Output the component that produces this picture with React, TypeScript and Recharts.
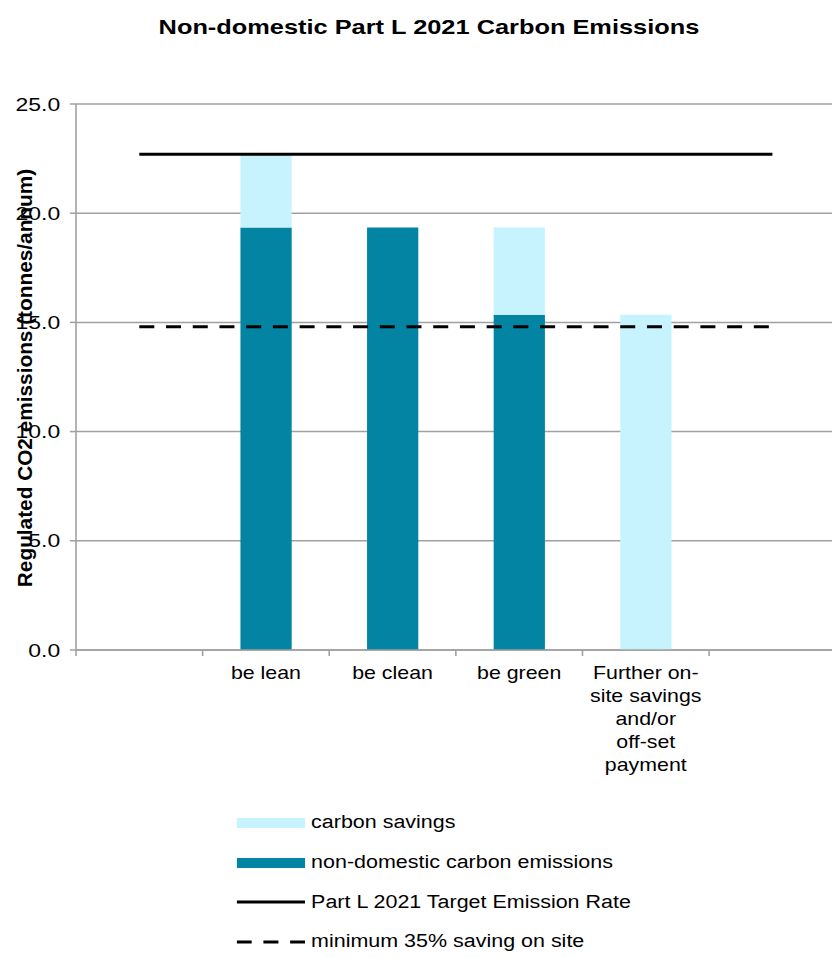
import { Bar, CartesianGrid, ComposedChart, Legend, Line, XAxis, YAxis } from 'recharts';

const categories = ['', 'be lean', 'be clean', 'be green', 'Further on-\nsite savings\nand/or\noff-set\npayment', ' '];
const nonDomesticEmissions = [0, 19.35, 19.35, 15.35, 0, 0];
const carbonSavings = [0, 3.35, 0, 4.0, 15.35, 0];
const targetEmissionRate = [22.7, 22.7, 22.7, 22.7, 22.7, 22.7];
const minimumSaving = [14.8, 14.8, 14.8, 14.8, 14.8, 14.8];
const yTicks = [0, 5, 10, 15, 20, 25];

const data = categories.map((name, i) => ({
  name,
  nonDomestic: nonDomesticEmissions[i],
  savings: carbonSavings[i],
  target: targetEmissionRate[i],
  minimum: minimumSaving[i],
}));

// the source picture is stretched sideways, so draw narrower and scale the whole box
const STRETCH = 1.22;
const DARK = '#0284a2';
const LIGHT = '#c6f3fd';
const GRID = '#a0a0a0';
const FONT = '"Liberation Sans", Arial, sans-serif';

function CategoryTick(props: any) {
  const { x, y, payload } = props;
  const half = payload.offset ?? 51.9;
  const lines = String(payload.value).split('\n');
  return (
    <g>
      <line x1={x - half} x2={x - half} y1={y} y2={y + 6} stroke={GRID} strokeWidth={1.3} />
      <text x={x} y={y + 29} textAnchor="middle" fontSize={17.5} fill="#000" fontFamily={FONT}>
        {lines.map((line, i) => (
          <tspan key={i} x={x} dy={i === 0 ? 0 : 23}>
            {line}
          </tspan>
        ))}
      </text>
    </g>
  );
}

const legendRows = [
  { label: 'carbon savings', kind: 'bar', color: LIGHT },
  { label: 'non-domestic carbon emissions', kind: 'bar', color: DARK },
  { label: 'Part L 2021 Target Emission Rate', kind: 'line', color: '#000' },
  { label: 'minimum 35% saving on site', kind: 'dash', color: '#000' },
];

function LegendBox() {
  return (
    <div style={{ fontFamily: FONT }}>
      {legendRows.map((row) => (
        <div key={row.label} style={{ display: 'flex', alignItems: 'center', height: 39.7 }}>
          <svg width={56} height={12} style={{ display: 'block' }}>
            {row.kind === 'bar' ? (
              <rect x={0} y={1} width={56} height={10} fill={row.color} />
            ) : (
              <line
                x1={0}
                x2={56}
                y1={6}
                y2={6}
                stroke={row.color}
                strokeWidth={3}
                strokeDasharray={row.kind === 'dash' ? '12.3 9.6' : undefined}
              />
            )}
          </svg>
          <span style={{ marginLeft: 5, fontSize: 17.6, color: '#000', whiteSpace: 'nowrap' }}>{row.label}</span>
        </div>
      ))}
    </div>
  );
}

export default function App() {
  return (
    <div
      style={{
        position: 'absolute',
        left: 0,
        top: 0,
        width: 832,
        height: 958,
        overflow: 'hidden',
        background: '#fff',
        fontFamily: FONT,
      }}
    >
      <div style={{ position: 'relative', width: 690, height: 958, transform: `scaleX(${STRETCH})`, transformOrigin: '0 0' }}>
        <ComposedChart
          width={690}
          height={958}
          data={data}
          margin={{ top: 104, right: 5, bottom: 188, left: 12.3 }}
          barSize={42}
        >
          <CartesianGrid vertical={false} stroke={GRID} strokeWidth={1.5} />
          <XAxis
            dataKey="name"
            height={120}
            axisLine={{ stroke: GRID, strokeWidth: 1.5 }}
            tickLine={false}
            tickSize={0}
            tickMargin={0}
            interval={0}
            tick={<CategoryTick />}
          />
          <YAxis
            width={50}
            domain={[0, 25]}
            ticks={yTicks}
            allowDataOverflow
            axisLine={{ stroke: GRID, strokeWidth: 1.3 }}
            tickLine={{ stroke: GRID, strokeWidth: 1.5 }}
            tickSize={5}
            tickMargin={8}
            tickFormatter={(v) => Number(v).toFixed(1)}
            tick={{ fontSize: 18.8, fill: '#000', fontFamily: FONT }}
          />
          <Bar dataKey="nonDomestic" stackId="a" fill={DARK} isAnimationActive={false} />
          <Bar dataKey="savings" stackId="a" fill={LIGHT} isAnimationActive={false} />
          <Line dataKey="target" stroke="#000" strokeWidth={3} dot={false} activeDot={false} isAnimationActive={false} />
          <Line
            dataKey="minimum"
            stroke="#000"
            strokeWidth={3}
            strokeDasharray="12.3 9.6"
            dot={false}
            activeDot={false}
            isAnimationActive={false}
          />
          <Legend
            layout="horizontal"
            verticalAlign="middle"
            align="center"
            content={() => <LegendBox />}
            wrapperStyle={{ left: 194, top: 803, width: 400, height: 160 }}
          />
        </ComposedChart>
        <svg width={690} height={958} style={{ position: 'absolute', left: 0, top: 0, pointerEvents: 'none' }}>
          <text x={351.6} y={34} textAnchor="middle" fontSize={20.8} fontWeight="bold" fill="#000" fontFamily={FONT}>
            Non-domestic Part L 2021 Carbon Emissions
          </text>
          <text
            transform={`translate(19.7,378) scale(${1 / STRETCH},1) rotate(-90)`}
            textAnchor="middle"
            dominantBaseline="central"
            fontSize={20.8}
            fontWeight="bold"
            fill="#000"
            fontFamily={FONT}
          >
            Regulated CO2 emissions (tonnes/annum)
          </text>
        </svg>
      </div>
    </div>
  );
}
